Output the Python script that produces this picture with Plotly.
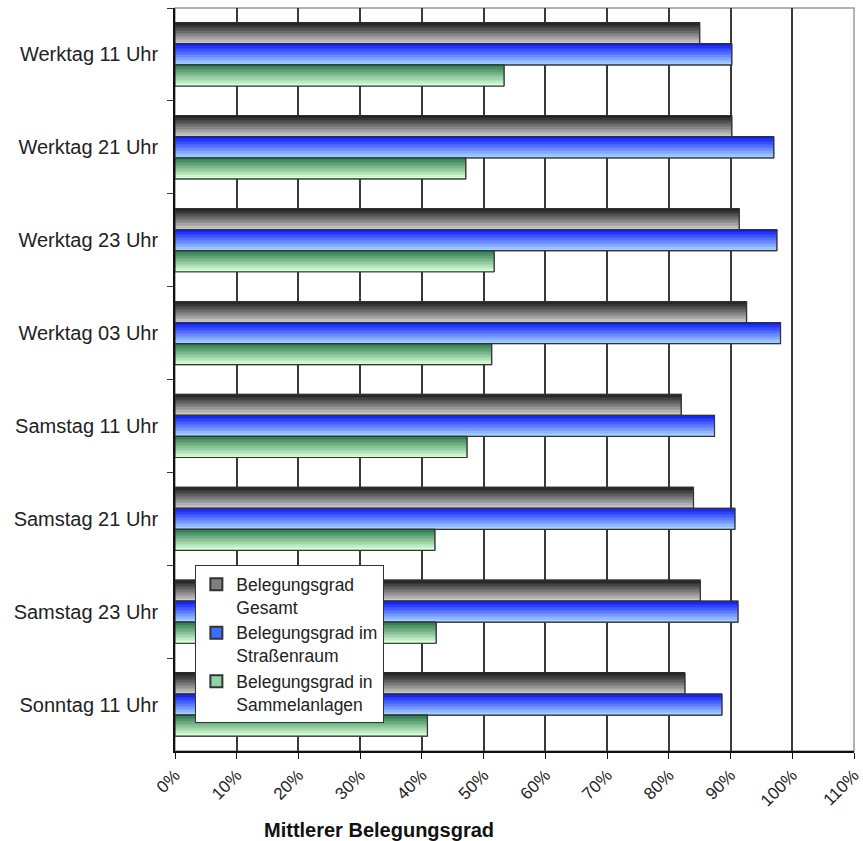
import plotly.graph_objects as go

# Mean occupancy per time slot
categories = [
    "Werktag 11 Uhr", "Werktag 21 Uhr", "Werktag 23 Uhr", "Werktag 03 Uhr",
    "Samstag 11 Uhr", "Samstag 21 Uhr", "Samstag 23 Uhr", "Sonntag 11 Uhr",
]
gesamt = [0.850, 0.902, 0.914, 0.926, 0.820, 0.840, 0.851, 0.826]
strassenraum = [0.902, 0.970, 0.975, 0.981, 0.874, 0.907, 0.912, 0.886]
sammelanlagen = [0.533, 0.471, 0.517, 0.513, 0.473, 0.421, 0.423, 0.409]

x_ticks = [i / 10 for i in range(12)]
x_tick_labels = [f"{i * 10}%" for i in range(12)]

series_names = [
    "Belegungsgrad<br>Gesamt",
    "Belegungsgrad im<br>Straßenraum",
    "Belegungsgrad in<br>Sammelanlagen",
]
series_values = [gesamt, strassenraum, sammelanlagen]
# (top colour, bottom colour, legend colour) for the shaded bars
series_colors = [
    ((28, 28, 28), (200, 200, 200), "#808080"),
    ((12, 24, 250), (164, 208, 255), "#3d6cff"),
    ((44, 120, 76), (214, 255, 214), "#8fd4a8"),
]

FONT = "Liberation Sans, Arial, sans-serif"
TEXT = "#222222"
GROUP = 0.68          # share of a category band filled by the three bars
BAR_W = GROUP / 3
STRIPS = 14           # number of shading bands per bar


def mix(c1, c2, t):
    return "rgb({},{},{})".format(*[round(a + (b - a) * t) for a, b in zip(c1, c2)])


fig = go.Figure()

for s, (name, vals, (top, bottom, mid)) in enumerate(zip(series_names, series_values, series_colors)):
    start = -GROUP / 2 + s * BAR_W
    # base bar (also provides the legend symbol)
    fig.add_trace(go.Bar(
        y=categories, x=vals, orientation="h", name=name,
        offset=start, width=BAR_W,
        marker=dict(color=mid, line=dict(color="#333333", width=1)),
        showlegend=True, hoverinfo="skip",
    ))
    # vertical shading of the bar
    sw = BAR_W / STRIPS
    for k in range(STRIPS):
        t = k / (STRIPS - 1)
        fig.add_trace(go.Bar(
            y=categories, x=vals, orientation="h",
            offset=start + k * sw, width=sw * 1.02,
            marker=dict(color=mix(top, bottom, t), line=dict(width=0)),
            showlegend=False, hoverinfo="skip",
        ))
    # outline on top
    fig.add_trace(go.Bar(
        y=categories, x=vals, orientation="h",
        offset=start, width=BAR_W,
        marker=dict(color="rgba(0,0,0,0)", line=dict(color="#333333", width=1.2)),
        showlegend=False, hoverinfo="skip",
    ))

fig.update_layout(
    width=863, height=841,
    margin=dict(l=175, r=9, t=8, b=90),
    paper_bgcolor="white", plot_bgcolor="white",
    barmode="overlay",
    font=dict(family=FONT, size=18, color=TEXT),
    legend=dict(
        x=0.03, y=0.25, xanchor="left", yanchor="top",
        bgcolor="white", bordercolor="#333333", borderwidth=1,
        font=dict(family=FONT, size=17.5, color=TEXT),
        valign="top", tracegroupgap=0, itemsizing="constant",
    ),
    xaxis=dict(
        range=[0, 1.1], tickmode="array", tickvals=x_ticks, ticktext=x_tick_labels,
        tickangle=-45, ticks="outside", ticklen=6, tickcolor="#111111",
        ticklabeloverflow="allow", automargin=False,
        showgrid=True, gridcolor="#3a3a3a", gridwidth=1.5,
        showline=True, linecolor="#111111", linewidth=1.5,
        zeroline=False,
        tickfont=dict(family=FONT, size=17, color=TEXT),
    ),
    yaxis=dict(
        autorange="reversed", ticks="outside", tickson="boundaries",
        ticklen=6, tickcolor="#333333", automargin=False,
        showgrid=False, showline=True, linecolor="#111111", linewidth=1.5,
        tickfont=dict(family=FONT, size=20, color=TEXT),
        ticksuffix="  ",
    ),
    shapes=[
        dict(type="rect", xref="paper", yref="paper", x0=0, x1=1, y0=0, y1=1,
             line=dict(color="#9a9a9a", width=1.5), layer="below"),
    ],
    annotations=[
        dict(text="<b>Mittlerer Belegungsgrad</b>", xref="paper", yref="paper",
             x=0.30, y=-0.106, xanchor="center", yanchor="middle",
             showarrow=False, font=dict(family=FONT, size=20, color="#111111")),
    ],
)

fig.write_html("out.html")
